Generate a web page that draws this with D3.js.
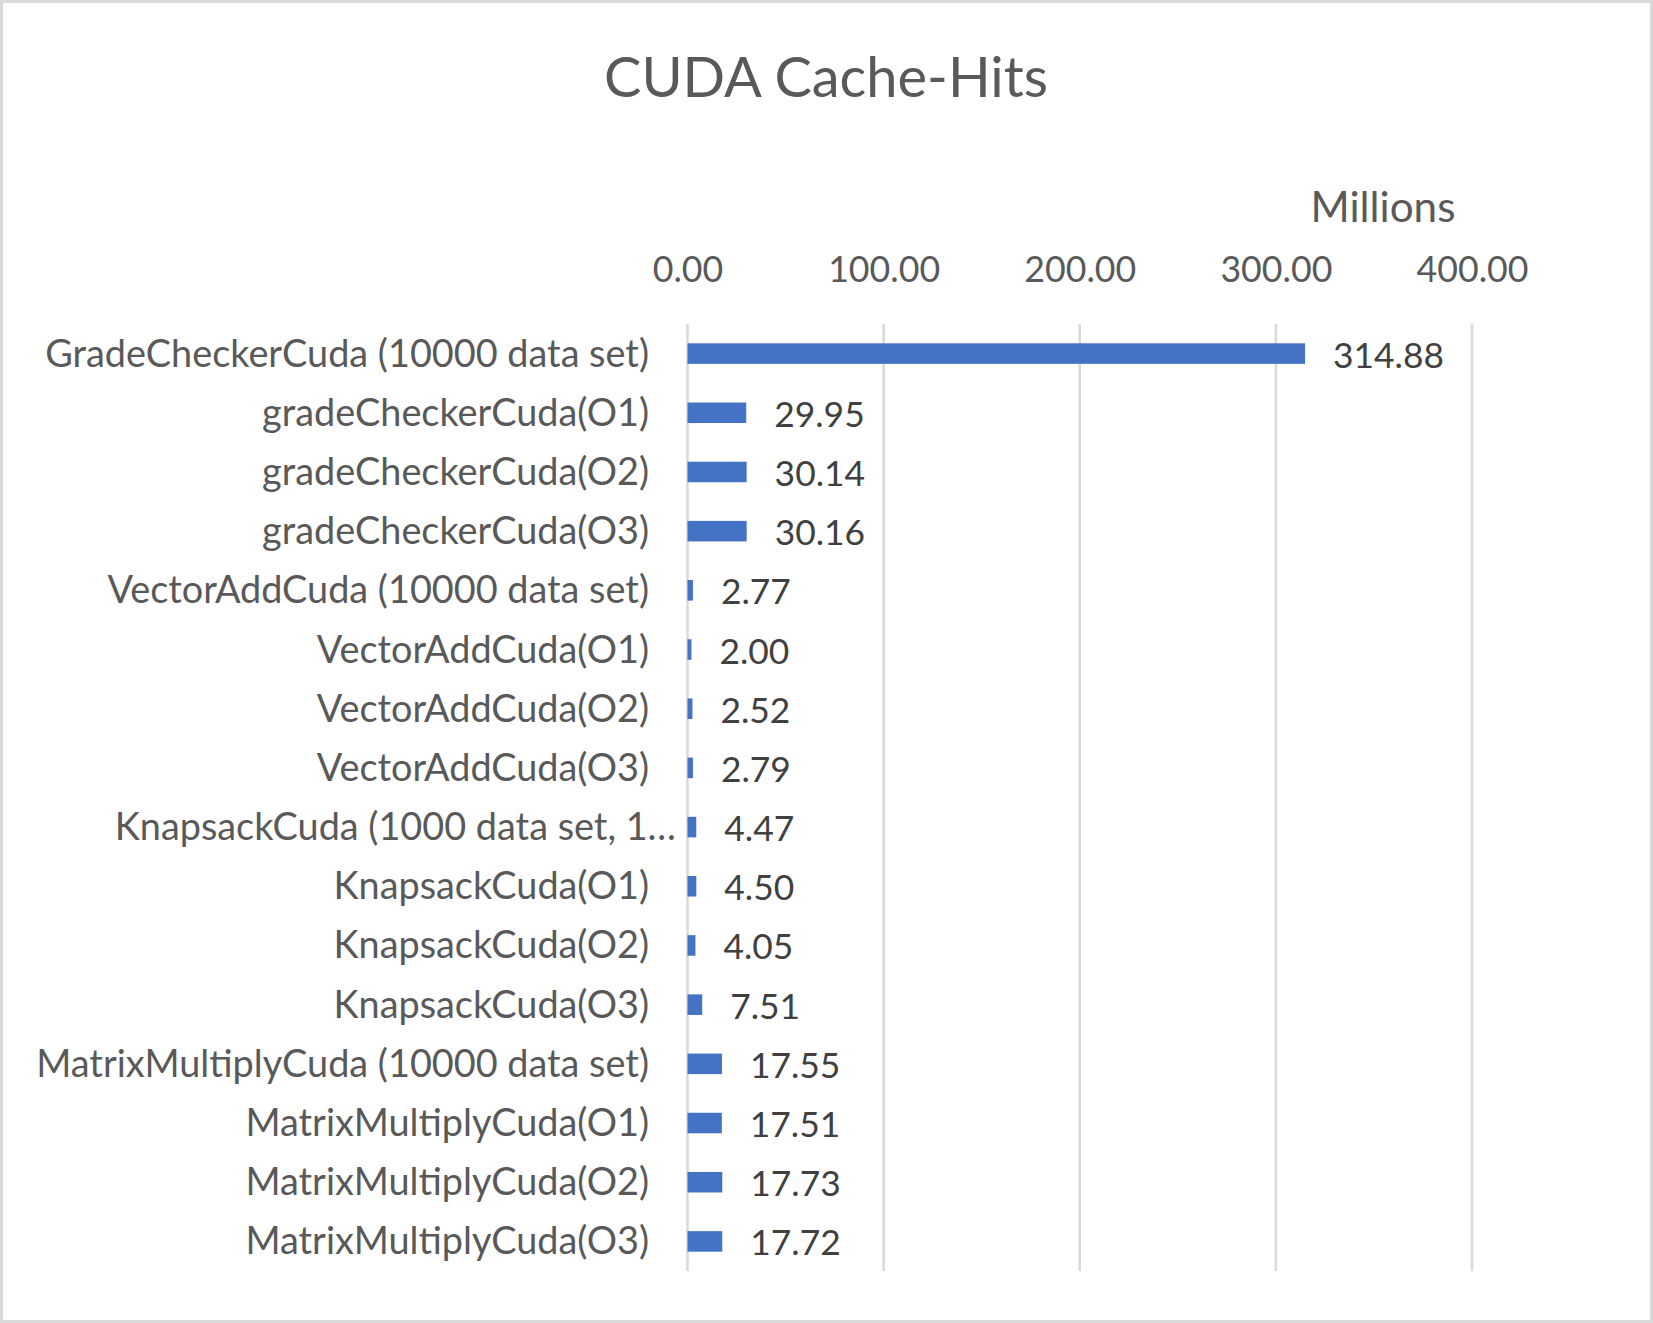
<!DOCTYPE html>
<html>
<head>
<meta charset="utf-8">
<script src="https://cdn.jsdelivr.net/npm/d3@7"></script>
<style>
  html, body { margin: 0; padding: 0; background: #fff; }
  svg { display: block; }
  text { font-family: Lato, "Open Sans", sans-serif; }
</style>
</head>
<body>
<svg id="chart" width="1653" height="1323"></svg>
<script>
// ---- data ----
const chartTitle = "CUDA Cache-Hits";
const unitLabel = "Millions";
const categories = [
  "GradeCheckerCuda (10000 data set)",
  "gradeCheckerCuda(O1)",
  "gradeCheckerCuda(O2)",
  "gradeCheckerCuda(O3)",
  "VectorAddCuda (10000 data set)",
  "VectorAddCuda(O1)",
  "VectorAddCuda(O2)",
  "VectorAddCuda(O3)",
  "KnapsackCuda (1000 data set, 1\u2026",
  "KnapsackCuda(O1)",
  "KnapsackCuda(O2)",
  "KnapsackCuda(O3)",
  "MatrixMultiplyCuda (10000 data set)",
  "MatrixMultiplyCuda(O1)",
  "MatrixMultiplyCuda(O2)",
  "MatrixMultiplyCuda(O3)"
];
const values = [314.88, 29.95, 30.14, 30.16, 2.77, 2.00, 2.52, 2.79, 4.47, 4.50, 4.05, 7.51, 17.55, 17.51, 17.73, 17.72];
const tickValues = [0, 100, 200, 300, 400];

// ---- layout ----
const W = 1653, H = 1323;
const svg = d3.select("#chart");
const axisColor = "#595959";
const labelColor = "#404040";
const gridColor = "#d9d9d9";
const barColor = "#4472C4";

svg.append("rect")
  .attr("x", 1.5).attr("y", 1.5)
  .attr("width", W - 3).attr("height", H - 3)
  .attr("fill", "#fff").attr("stroke", gridColor).attr("stroke-width", 3);

const x = d3.scaleLinear().domain([0, 400]).range([687.5, 1472]);
const y = d3.scaleBand().domain(categories).range([324, 1271]).paddingInner(0.653).paddingOuter(0.3265);

// fit a text element's font size so its width matches a target width
function fitSize(str, target, base) {
  const t = svg.append("text").attr("font-size", base).text(str);
  const w = t.node().getComputedTextLength();
  t.remove();
  return base * target / w;
}

const catSize = fitSize("GradeCheckerCuda (10000 data set)", 604, 40);
const tickSize = fitSize("400.00", 112, 40);
const valSize = fitSize("314.88", 111, 40);
const titleSize = fitSize(chartTitle, 444, 64);
const unitSize = fitSize(unitLabel, 145, 40);

// title
svg.append("text")
  .attr("x", 826).attr("y", 97)
  .attr("text-anchor", "middle")
  .attr("font-size", titleSize)
  .attr("fill", axisColor)
  .text(chartTitle);

// unit label
svg.append("text")
  .attr("x", 1383).attr("y", 222)
  .attr("text-anchor", "middle")
  .attr("font-size", unitSize)
  .attr("fill", axisColor)
  .text(unitLabel);

// gridlines
svg.append("g").selectAll("line")
  .data(tickValues)
  .join("line")
  .attr("x1", d => x(d)).attr("x2", d => x(d))
  .attr("y1", 324).attr("y2", 1271)
  .attr("stroke", gridColor).attr("stroke-width", 2.5);

// top axis tick labels
const fmt = d3.format(".2f");
const axis = d3.axisTop(x).tickValues(tickValues).tickFormat(fmt).tickSize(0).tickPadding(0);
const axisG = svg.append("g").attr("transform", "translate(0,282)").call(axis);
axisG.select(".domain").remove();
axisG.selectAll("text")
  .attr("y", 0).attr("dy", 0)
  .attr("font-family", "Lato, 'Open Sans', sans-serif")
  .attr("font-size", tickSize)
  .attr("fill", axisColor);

// bars
svg.append("g").selectAll("rect")
  .data(values)
  .join("rect")
  .attr("x", x(0))
  .attr("y", (d, i) => y(categories[i]))
  .attr("width", d => x(d) - x(0))
  .attr("height", y.bandwidth())
  .attr("fill", barColor);

// category labels
svg.append("g").selectAll("text")
  .data(categories)
  .join("text")
  .attr("x", d => d.endsWith("\u2026") ? 676 : 649)
  .attr("y", d => y(d) + y.bandwidth() / 2 + 13)
  .attr("text-anchor", "end")
  .attr("font-size", catSize)
  .attr("fill", axisColor)
  .text(d => d);

// value labels
svg.append("g").selectAll("text")
  .data(values)
  .join("text")
  .attr("x", d => x(d) + 28)
  .attr("y", (d, i) => y(categories[i]) + y.bandwidth() / 2 + 14)
  .attr("font-size", valSize)
  .attr("fill", labelColor)
  .text(d => fmt(d));
</script>
</body>
</html>
